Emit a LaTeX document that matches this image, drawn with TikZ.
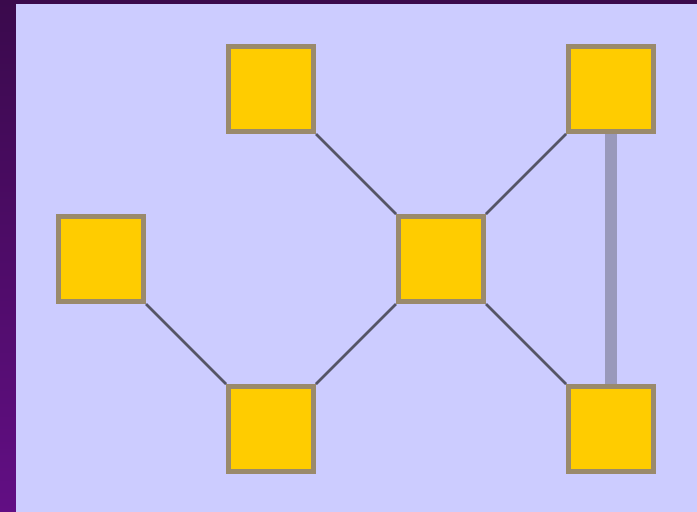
\documentclass[tikz,border=0pt]{standalone}
\begin{document}
\begin{tikzpicture}[x=1pt,y=-1pt,
  box/.style={draw=boxedge,fill=boxfill,line width=5pt,inner sep=0pt,minimum size=85pt},
  link/.style={draw=linkcol,line width=2.5pt},
  thick link/.style={draw=barcol,line width=12pt}]
\definecolor{bg}{HTML}{CCCCFF}
\definecolor{boxfill}{HTML}{FFCC00}
\definecolor{boxedge}{HTML}{9A8A6C}
\definecolor{linkcol}{HTML}{555566}
\definecolor{barcol}{HTML}{9999BB}
\definecolor{stripTop}{HTML}{3A0A4C}
\definecolor{stripBot}{HTML}{620E84}
\useasboundingbox (0,0) rectangle (697,512);
\fill[stripTop] (0,0) rectangle (697,4);
\shade[top color=stripTop,bottom color=stripBot] (0,0) rectangle (16,512);
\fill[bg] (16,4) rectangle (697,512);
\coordinate (pa) at (271,89);
\coordinate (pb) at (611,89);
\coordinate (pc) at (101,259);
\coordinate (pd) at (441,259);
\coordinate (pe) at (271,429);
\coordinate (pf) at (611,429);
\node[box] (a) at (pa) {};
\node[box] (b) at (pb) {};
\node[box] (c) at (pc) {};
\node[box] (d) at (pd) {};
\node[box] (e) at (pe) {};
\node[box] (f) at (pf) {};
\begin{scope}
\path[thick link] (b.south) -- (f.north);
\path[link] (a.south east) -- (d.north west);
\path[link] (d.north east) -- (b.south west);
\path[link] (c.south east) -- (e.north west);
\path[link] (e.north east) -- (d.south west);
\path[link] (d.south east) -- (f.north west);
\end{scope}
\end{tikzpicture}
\end{document}
